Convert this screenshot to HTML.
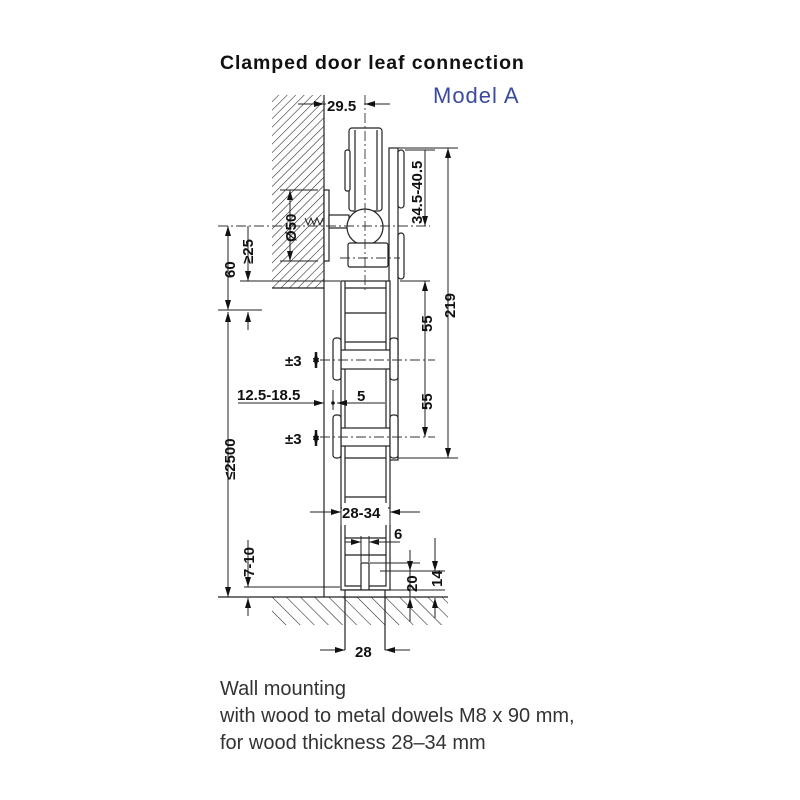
<!DOCTYPE html>
<html><head><meta charset="utf-8"><style>
body{margin:0;background:#fff}
svg{display:block}
text{font-family:"Liberation Sans",Arial,sans-serif;fill:#111}
</style></head><body>
<svg width="800" height="800" viewBox="0 0 800 800" xmlns="http://www.w3.org/2000/svg">
<defs>
<pattern id="h" width="6" height="6" patternUnits="userSpaceOnUse" patternTransform="rotate(45)">
<line x1="0" y1="0" x2="0" y2="6" stroke="#222" stroke-width="1.1"/></pattern>
<pattern id="h2" width="10" height="10" patternUnits="userSpaceOnUse" patternTransform="rotate(-45)">
<line x1="0" y1="0" x2="0" y2="10" stroke="#222" stroke-width="1.1"/></pattern>
<marker id="a" markerWidth="10" markerHeight="6" refX="10" refY="3" orient="auto-start-reverse" markerUnits="userSpaceOnUse"><path d="M0,0 L10,3 L0,6 z" fill="#111"/></marker>
</defs>
<text x="220" y="69" font-size="19.5" font-weight="bold" letter-spacing="0.9">Clamped door leaf connection</text>
<text x="433" y="103" font-size="22" letter-spacing="1" style="fill:#3a4aa0">Model A</text>

<g stroke="#222" stroke-width="1.2" fill="none">
<rect x="272" y="95" width="52" height="193" fill="url(#h)" stroke="none"/>
<line x1="324" y1="95" x2="324" y2="597"/>
<line x1="272" y1="288" x2="324" y2="288"/>
<rect x="272" y="597" width="176" height="28" fill="url(#h2)" stroke="none"/>
<line x1="218" y1="597" x2="448" y2="597"/>
<rect x="324" y="190" width="5" height="71" fill="#fff"/>
<rect x="329" y="215" width="20" height="13" fill="#fff"/>
<path d="M305,218 l3,7 l3,-7 l3,7 l3,-7 l3,7 l3,-7" stroke-width="1"/>
<rect x="349" y="128" width="33" height="83" rx="3" fill="#fff"/>
<line x1="355" y1="130" x2="355" y2="210"/><line x1="377" y1="130" x2="377" y2="210"/>
<rect x="345" y="150" width="5" height="41" rx="2" fill="#fff"/>
<circle cx="365" cy="227" r="18" fill="#fff"/>
<rect x="348" y="243" width="40" height="24" rx="2" fill="#fff"/>
<rect x="389" y="148" width="9" height="312" fill="#fff"/>
<rect x="398" y="150" width="6" height="58" rx="3" fill="#fff"/>
<rect x="398" y="233" width="6" height="46" rx="3" fill="#fff"/>
<rect x="341" y="281" width="49" height="227" fill="#fff"/>
<line x1="345" y1="281" x2="345" y2="508"/><line x1="386" y1="281" x2="386" y2="508"/>
<line x1="345" y1="288" x2="386" y2="288"/>
<line x1="345" y1="313" x2="386" y2="313"/>
<line x1="345" y1="342" x2="386" y2="342"/>
<line x1="345" y1="458" x2="386" y2="458"/>
<line x1="345" y1="497" x2="386" y2="497"/>
<rect x="341" y="350" width="49" height="19" fill="#fff"/>
<rect x="341" y="428" width="49" height="18" fill="#fff"/>
<rect x="333" y="338" width="8" height="42" rx="3" fill="#fff"/>
<rect x="390" y="338" width="8" height="42" rx="3" fill="#fff"/>
<rect x="333" y="415" width="8" height="43" rx="3" fill="#fff"/>
<rect x="390" y="415" width="8" height="43" rx="3" fill="#fff"/>
<path d="M341,525 V590 H390 V525"/>
<path d="M345,525 V586 H386 V525"/>
<line x1="345" y1="538" x2="386" y2="538"/>
<line x1="345" y1="555" x2="386" y2="555"/>
<rect x="361" y="563" width="8" height="27" fill="#fff"/>
<rect x="345" y="590" width="40" height="7" fill="#fff"/>
<line x1="345" y1="597" x2="345" y2="650"/><line x1="385" y1="597" x2="385" y2="650"/>
</g>

<g stroke="#333" stroke-width="0.9" stroke-dasharray="10,3,2,3" fill="none">
<line x1="365" y1="95" x2="365" y2="290"/>
<line x1="218" y1="226" x2="430" y2="226"/>
<line x1="340" y1="258" x2="400" y2="258"/>
<line x1="320" y1="360" x2="435" y2="360"/>
<line x1="320" y1="437" x2="435" y2="437"/>
</g>

<g stroke="#222" stroke-width="1" fill="none">
<line x1="298" y1="104" x2="324" y2="104" marker-end="url(#a)"/>
<line x1="390" y1="104" x2="365" y2="104" marker-end="url(#a)"/>
<line x1="324" y1="104" x2="365" y2="104"/>
<line x1="398" y1="148" x2="458" y2="148"/>
<line x1="398" y1="458" x2="458" y2="458"/>
<line x1="448" y1="148" x2="448" y2="458" marker-start="url(#a)" marker-end="url(#a)"/>
<line x1="405" y1="150" x2="435" y2="150"/>
<line x1="425" y1="150" x2="425" y2="226" marker-end="url(#a)"/>
<line x1="425" y1="281" x2="425" y2="437" marker-start="url(#a)" marker-end="url(#a)"/>
<line x1="400" y1="281" x2="430" y2="281"/>
<line x1="280" y1="190" x2="318" y2="190"/><line x1="280" y1="261" x2="318" y2="261"/>
<line x1="290" y1="190" x2="290" y2="261" marker-start="url(#a)" marker-end="url(#a)"/>
<line x1="240" y1="281" x2="340" y2="281"/>
<line x1="228" y1="226" x2="228" y2="310" marker-start="url(#a)" marker-end="url(#a)"/>
<line x1="248" y1="226" x2="248" y2="281" marker-end="url(#a)"/>
<line x1="218" y1="310" x2="262" y2="310"/>
<line x1="248" y1="330" x2="248" y2="312" marker-end="url(#a)"/>
<line x1="228" y1="312" x2="228" y2="597" marker-start="url(#a)" marker-end="url(#a)"/>
<line x1="244" y1="587" x2="340" y2="587"/>
<line x1="248" y1="540" x2="248" y2="587" marker-end="url(#a)"/>
<line x1="248" y1="616" x2="248" y2="598" marker-end="url(#a)"/>
<line x1="238" y1="403" x2="324" y2="403" marker-end="url(#a)"/>
<line x1="333" y1="390" x2="333" y2="410"/>
<line x1="360" y1="403" x2="337" y2="403" marker-end="url(#a)"/>
<line x1="355" y1="403" x2="385" y2="403"/>
<line x1="310" y1="512" x2="341" y2="512" marker-end="url(#a)"/>
<line x1="420" y1="512" x2="390" y2="512" marker-end="url(#a)"/>
<line x1="341" y1="505" x2="341" y2="525"/><line x1="390" y1="505" x2="390" y2="525"/>
<line x1="345" y1="542" x2="361" y2="542" marker-end="url(#a)"/>
<line x1="387" y1="542" x2="369" y2="542" marker-end="url(#a)"/>
<line x1="361" y1="536" x2="361" y2="562"/><line x1="369" y1="536" x2="369" y2="562"/>
<line x1="369" y1="542" x2="400" y2="542"/>
<line x1="370" y1="563" x2="420" y2="563"/>
<line x1="388" y1="590" x2="445" y2="590"/>
<line x1="380" y1="571" x2="445" y2="571"/>
<line x1="410" y1="550" x2="410" y2="571" marker-end="url(#a)"/>
<line x1="410" y1="622" x2="410" y2="598" marker-end="url(#a)"/>
<line x1="410" y1="571" x2="410" y2="597"/>
<line x1="435" y1="538" x2="435" y2="571" marker-end="url(#a)"/>
<line x1="435" y1="618" x2="435" y2="598" marker-end="url(#a)"/>
<line x1="320" y1="650" x2="345" y2="650" marker-end="url(#a)"/>
<line x1="410" y1="650" x2="385" y2="650" marker-end="url(#a)"/>
<line x1="316" y1="352" x2="316" y2="368" marker-start="url(#a)" marker-end="url(#a)" stroke-width="2.5"/>
<line x1="316" y1="430" x2="316" y2="446" marker-start="url(#a)" marker-end="url(#a)" stroke-width="2.5"/>
</g>
<circle cx="333" cy="403" r="1.8" fill="#111"/>

<g font-size="15" font-weight="bold">
<rect x="326" y="97" width="38" height="16" fill="#fff"/>
<text x="327" y="111">29.5</text>
<text x="285" y="366">±3</text>
<text x="285" y="444">±3</text>
<text x="237" y="400">12.5-18.5</text>
<text x="357" y="401">5</text>
<rect x="342" y="503" width="46" height="17" fill="#fff"/>
<text x="342" y="518">28-34</text>
<text x="394" y="539">6</text>
<text x="355" y="657">28</text>
<text transform="translate(422,224) rotate(-90)">34.5-40.5</text>
<text transform="translate(455,318) rotate(-90)">219</text>
<text transform="translate(432,332) rotate(-90)">55</text>
<text transform="translate(432,410) rotate(-90)">55</text>
<text transform="translate(296,242) rotate(-90)">Ø50</text>
<text transform="translate(235,278) rotate(-90)">60</text>
<text transform="translate(253,264) rotate(-90)">≥25</text>
<text transform="translate(235,480) rotate(-90)">≤2500</text>
<text transform="translate(254,577) rotate(-90)">7-10</text>
<text transform="translate(417,592) rotate(-90)">20</text>
<text transform="translate(442,587) rotate(-90)">14</text>
</g>

<g font-size="20">
<text x="220" y="695" style="fill:#333">Wall mounting</text>
<text x="220" y="722" style="fill:#333">with wood to metal dowels M8 x 90 mm,</text>
<text x="220" y="749" style="fill:#333">for wood thickness 28–34 mm</text>
</g>
</svg>
</body></html>
